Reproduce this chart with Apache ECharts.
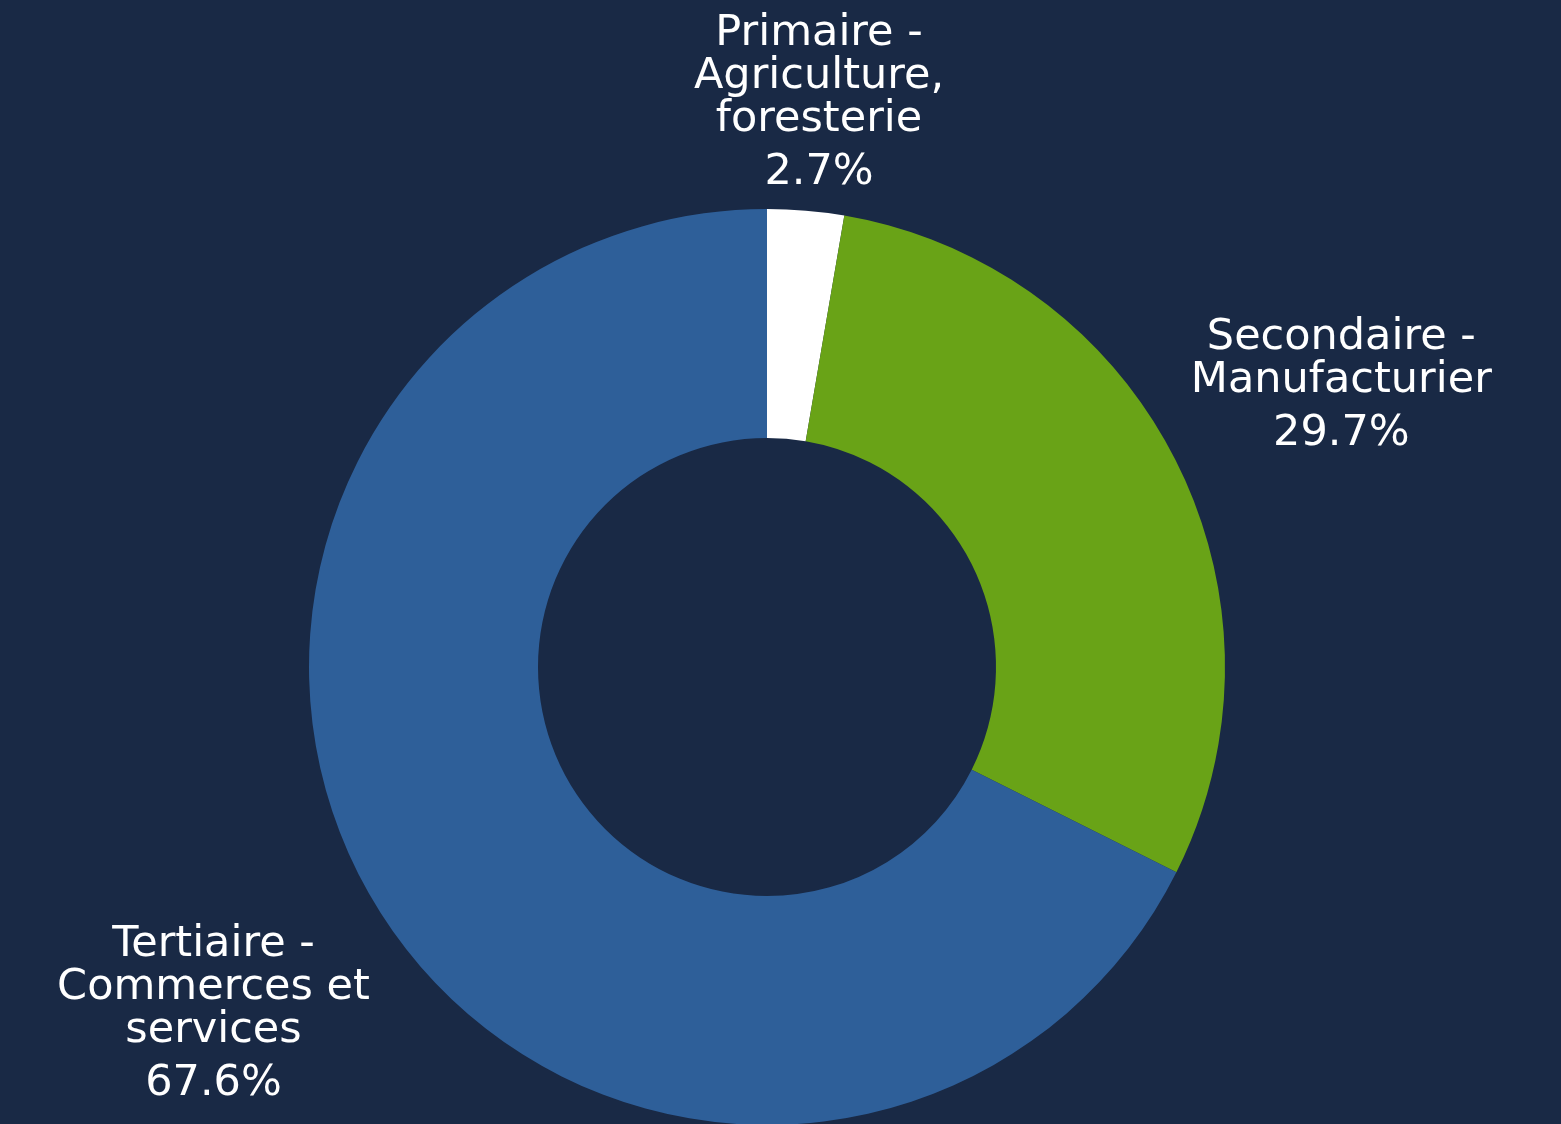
<!DOCTYPE html>
<html>
<head>
<meta charset="utf-8">
<script src="https://cdn.jsdelivr.net/npm/echarts@6/dist/echarts.min.js"></script>
<style>
html,body{margin:0;padding:0;background:#192945;}
#c{width:1561px;height:1124px;}
</style>
</head>
<body>
<div id="c"></div>
<script>
const categories = ['Primaire -\nAgriculture,\nforesterie', 'Secondaire -\nManufacturier', 'Tertiaire -\nCommerces et\nservices'];
const values = [2.7, 29.7, 67.6];
const palette = ['#ffffff', '#69a317', '#2e5f99'];

const CX = 767, CY = 667, R_IN = 229, R_OUT = 458, GAP = 11;
const total = values.reduce((a, b) => a + b, 0);

const chart = echarts.init(document.getElementById('c'), null, {renderer: 'canvas'});
chart.setOption({
  backgroundColor: '#192945',
  color: palette,
  animation: false,
  series: [{
    type: 'pie',
    center: [CX, CY],
    radius: [R_IN, R_OUT],
    startAngle: 90,
    clockwise: true,
    avoidLabelOverlap: false,
    percentPrecision: 1,
    itemStyle: {borderWidth: 0},
    label: {
      show: true,
      position: 'outside',
      distanceToLabelLine: 0,
      formatter: '{n|{b}}\n{p|{d}%}',
      color: '#ffffff',
      fontFamily: 'DejaVu Sans',
      rich: {
        n: {fontSize: 43, lineHeight: 43, color: '#ffffff', fontFamily: 'DejaVu Sans', align: 'center'},
        p: {fontSize: 43, lineHeight: 63, color: '#ffffff', fontFamily: 'DejaVu Sans', align: 'center'}
      }
    },
    labelLine: {show: false, length: GAP, length2: 0},
    labelLayout: function (p) {
      const i = p.dataIndex;
      let cum = 0;
      for (let k = 0; k < i; k++) cum += values[k];
      const th = (cum + values[i] / 2) / total * 2 * Math.PI;
      const ux = Math.sin(th), uy = -Math.cos(th);
      const w = p.labelRect.width, h = p.labelRect.height;
      const ax = CX + (R_OUT + GAP) * ux, ay = CY + (R_OUT + GAP) * uy;
      return {
        x: ax + ux * w / 2 * 1.16,
        y: ay + Math.sign(uy) * h / 2 + 9.8 + 9.9 * uy,
        align: 'center',
        verticalAlign: 'middle'
      };
    },
    data: categories.map((c, i) => ({name: c, value: values[i]}))
  }]
});
</script>
</body>
</html>
